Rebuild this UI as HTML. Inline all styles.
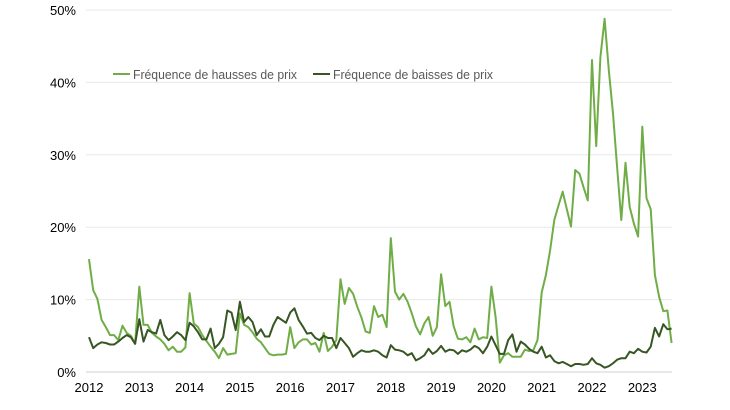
<!DOCTYPE html>
<html><head><meta charset="utf-8"><style>
html,body{margin:0;padding:0;background:#fff;}
svg{display:block;font-family:"Liberation Sans",sans-serif;}
</style></head><body>
<svg id="chart" width="730" height="410" xmlns="http://www.w3.org/2000/svg">
<g id="grid"></g>
<g id="yaxis"></g>
<g id="xaxis"></g>
<g id="series"></g>
<g>
  <g>
    <line x1="113" y1="74" x2="130" y2="74" stroke="#70AD47" stroke-width="2"/>
    <text x="133" y="79" font-size="13" fill="#595959" textLength="164" lengthAdjust="spacingAndGlyphs">Fréquence de hausses de prix</text>
  </g>
  <g>
    <line x1="313" y1="74" x2="330" y2="74" stroke="#375623" stroke-width="2"/>
    <text x="333" y="79" font-size="13" fill="#595959" textLength="160" lengthAdjust="spacingAndGlyphs">Fréquence de baisses de prix</text>
  </g>
</g>
</svg>
<script>
const yTicks = [0, 10, 20, 30, 40, 50];
const yTickLabels = ["0%", "10%", "20%", "30%", "40%", "50%"];
const xYears = [2012, 2013, 2014, 2015, 2016, 2017, 2018, 2019, 2020, 2021, 2022, 2023];
const startYear = 2012;
const hausses = [15.6,11.3,10.1,7.2,6.2,5.1,5.1,4.4,6.4,5.4,5.0,3.9,
 11.8,6.5,6.5,5.4,4.9,4.5,3.9,3.0,3.5,2.8,2.8,3.4,
 10.9,6.7,6.2,5.1,4.3,3.5,2.8,1.9,3.3,2.4,2.5,2.6,
 8.1,6.5,6.2,5.5,4.6,4.1,3.3,2.5,2.3,2.4,2.4,2.5,
 6.2,3.3,4.1,4.5,4.5,3.8,4.0,2.8,5.4,2.9,3.5,4.4,
 12.8,9.4,11.6,10.8,9.0,7.5,5.6,5.4,9.1,7.6,7.9,6.2,
 18.5,11.1,10.0,10.8,9.7,8.1,6.3,5.2,6.7,7.6,5.0,6.2,
 13.5,9.1,9.7,6.3,4.6,4.5,4.8,4.1,6.0,4.5,4.8,4.7,
 11.8,7.6,1.3,2.3,2.6,2.1,2.1,2.1,3.1,2.9,3.0,4.4,
 11.0,13.4,16.8,21.0,23.0,24.9,22.5,20.1,27.9,27.4,25.5,23.7,
 43.1,31.2,43.5,48.8,41.7,35.7,28.3,21.0,28.9,22.8,20.5,18.7,
 33.9,24.0,22.5,13.4,10.4,8.4,8.5,4.0];
const baisses = [4.8,3.3,3.8,4.1,4.0,3.8,3.8,4.2,4.7,5.1,4.8,3.9,
 7.3,4.2,5.8,5.5,5.3,7.2,5.1,4.4,4.9,5.5,5.1,4.4,
 6.8,6.3,5.5,4.5,4.5,6.0,3.3,3.9,4.8,8.5,8.2,5.8,
 9.7,6.9,7.6,6.9,5.1,5.9,4.9,4.9,6.5,7.6,7.2,6.8,
 8.2,8.8,7.2,6.3,5.3,5.4,4.7,4.4,5.0,4.7,4.7,3.3,
 4.7,4.0,3.3,2.1,2.6,3.0,2.8,2.8,3.0,2.8,2.3,2.0,
 3.7,3.1,3.0,2.8,2.3,2.6,1.6,1.9,2.3,3.2,2.5,2.9,
 3.6,2.8,3.1,3.0,2.5,3.0,2.8,3.1,3.6,3.3,2.6,3.5,
 4.9,3.7,2.5,2.5,4.4,5.2,2.8,4.2,3.8,3.2,2.8,2.6,
 3.5,2.0,2.3,1.5,1.2,1.4,1.1,0.8,1.1,1.1,1.0,1.1,
 1.9,1.2,1.0,0.6,0.8,1.2,1.7,1.9,1.9,2.8,2.6,3.2,
 2.8,2.7,3.5,6.1,4.9,6.6,5.9,6.0];

const NS = "http://www.w3.org/2000/svg";
const X0 = 89, YEARW = 50.3, Y0 = 372, PXPCT = 7.24;
const xMonth = i => X0 + i * YEARW / 12;
const xYear = yr => X0 + (yr - startYear) * YEARW;
const yVal = v => Y0 - v * PXPCT;

const grid = document.getElementById('grid');
const yaxis = document.getElementById('yaxis');
yTicks.forEach((t, k) => {
  const l = document.createElementNS(NS, 'line');
  l.setAttribute('x1', 86); l.setAttribute('x2', 672);
  l.setAttribute('y1', yVal(t)); l.setAttribute('y2', yVal(t));
  l.setAttribute('stroke', t === 0 ? '#d0d0d0' : '#e8e8e8');
  l.setAttribute('stroke-width', 1);
  
  
  grid.appendChild(l);
  const tx = document.createElementNS(NS, 'text');
  tx.setAttribute('x', 76); tx.setAttribute('y', yVal(t) + 5);
  tx.setAttribute('text-anchor', 'end'); tx.setAttribute('font-size', '13');
  tx.setAttribute('fill', '#000');
  tx.textContent = yTickLabels[k];
  
  
  yaxis.appendChild(tx);
});
const xaxis = document.getElementById('xaxis');
xYears.forEach(yr => {
  const tx = document.createElementNS(NS, 'text');
  tx.setAttribute('x', xYear(yr)); tx.setAttribute('y', 392);
  tx.setAttribute('text-anchor', 'middle'); tx.setAttribute('font-size', '13');
  tx.setAttribute('fill', '#000');
  tx.textContent = yr;
  
  
  xaxis.appendChild(tx);
});
const series = document.getElementById('series');
function drawLine(vals, color, name) {
  const p = document.createElementNS(NS, 'polyline');
  p.setAttribute('points', vals.map((v, i) => xMonth(i).toFixed(1) + ',' + yVal(v).toFixed(1)).join(' '));
  p.setAttribute('fill', 'none'); p.setAttribute('stroke', color);
  p.setAttribute('stroke-width', '2'); p.setAttribute('stroke-linejoin', 'round');
  
  
  series.appendChild(p);
}
drawLine(hausses, '#70AD47', 'hausses-line');
drawLine(baisses, '#375623', 'baisses-line');
</script>
</body></html>
